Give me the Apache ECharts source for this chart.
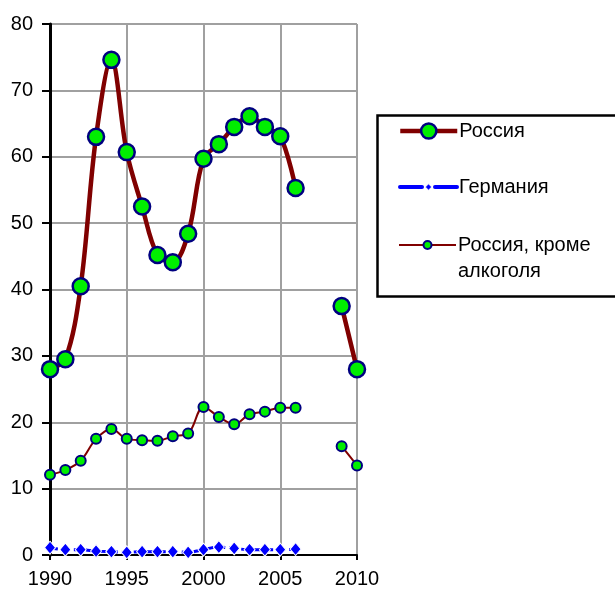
<!DOCTYPE html>
<html>
<head>
<meta charset="utf-8">
<script src="https://cdn.jsdelivr.net/npm/echarts@6/dist/echarts.min.js"></script>
<style>html,body{margin:0;padding:0;background:#fff;}#c{width:615px;height:591px;}</style>
</head>
<body>
<div id="c"></div>
<script>
const years = [1990,1991,1992,1993,1994,1995,1996,1997,1998,1999,2000,2001,2002,2003,2004,2005,2006,2007,2008,2009,2010];
const russia = [28.0,29.5,40.5,63.0,74.6,60.7,52.5,45.2,44.1,48.4,59.7,61.9,64.5,66.1,64.5,63.1,55.3,null,null,37.5,28.0];
const germany = [1.1,0.8,0.8,0.6,0.5,0.4,0.5,0.5,0.5,0.4,0.8,1.2,1.0,0.8,0.8,0.8,0.9,null,null,null,null];
const russiaExAlc = [12.1,12.8,14.2,17.5,19.0,17.5,17.3,17.2,17.9,18.3,22.3,20.8,19.7,21.2,21.6,22.2,22.2,null,null,16.4,13.5];
const xTicks = [1990,1995,2000,2005,2010];
const yTicks = [0,10,20,30,40,50,60,70,80];
const names = ['Россия','Германия','Россия, кроме\nалкоголя'];

const pairs = arr => years.map((y,i)=>[y, arr[i]]);
const font = 'Liberation Sans, Arial, sans-serif';
const legendText = {fontFamily:font,fontSize:20,color:'#000',lineHeight:26.5,padding:[0,0,0,-3]};

const chart = echarts.init(document.getElementById('c'), null, {renderer:'canvas'});
chart.setOption({
  animation:false,
  backgroundColor:'#fff',
  grid:{left:50,right:258,top:24,bottom:36,containLabel:false},
  graphic:[{
    type:'rect', left:375, top:113,
    shape:{x:0,y:0,width:250,height:181},
    style:{fill:'none',stroke:'#000',lineWidth:2.5},
    silent:true
  }],
  legend:[
    {
      left:398, top:131-13.25, padding:0,
      itemWidth:57, itemHeight:19,
      textStyle:legendText,
      data:[{name:names[0]}],
      lineStyle:{width:4.5,color:'#800000'},
      itemStyle:{color:'#00ee00',borderColor:'#000080',borderWidth:2.5}
    },
    {
      left:398, top:187-13.25, padding:0,
      itemWidth:57, itemHeight:8,
      textStyle:legendText,
      data:[{name:names[1]}],
      lineStyle:{width:4,color:'#0000ff',type:[22,13],cap:'round'},
      itemStyle:{color:'#0000ff',borderColor:'#ffffff',borderWidth:1}
    },
    {
      left:398, top:245-39.75, padding:0,
      itemWidth:57, itemHeight:10,
      textStyle:legendText,
      formatter: n => ' \n' + n,
      data:[{name:names[2]}],
      lineStyle:{width:2,color:'#800000'},
      itemStyle:{color:'#00ee00',borderColor:'#000080',borderWidth:2}
    }
  ],
  xAxis:{
    type:'value', min:xTicks[0], max:xTicks[xTicks.length-1], interval:5,
    axisLine:{show:true,onZero:false,lineStyle:{color:'#000',width:2}},
    axisTick:{show:true,length:5,lineStyle:{color:'#000',width:2}},
    axisLabel:{fontFamily:font,fontSize:20,color:'#000',margin:14,formatter:v=>String(v)},
    splitLine:{show:true,lineStyle:{color:'#a0a0a0',width:2}}
  },
  yAxis:{
    type:'value', min:yTicks[0], max:yTicks[yTicks.length-1], interval:10,
    axisLine:{show:true,lineStyle:{color:'#000',width:3}},
    axisTick:{show:true,length:8,lineStyle:{color:'#000',width:2}},
    axisLabel:{fontFamily:font,fontSize:20,color:'#000',margin:17},
    splitLine:{show:true,lineStyle:{color:'#a0a0a0',width:2}}
  },
  series:[
    {
      name:names[2], type:'line', data:pairs(russiaExAlc), smooth:0.35, connectNulls:false, z:3,
      symbol:'circle', symbolSize:10,
      lineStyle:{color:'#800000',width:2},
      itemStyle:{color:'#00ee00',borderColor:'#000080',borderWidth:2}
    },
    {
      name:names[1], type:'line', data:pairs(germany), smooth:0.35, connectNulls:false, z:4,
      symbol:'diamond', symbolSize:[11,13],
      lineStyle:{color:'#0000ff',width:3,type:[8,4]},
      itemStyle:{color:'#0000ff',borderColor:'#ffffff',borderWidth:1}
    },
    {
      name:names[0], type:'line', data:pairs(russia), smooth:0.35, connectNulls:false, z:5,
      symbol:'circle', symbolSize:16,
      lineStyle:{color:'#800000',width:4.5},
      itemStyle:{color:'#00ee00',borderColor:'#000080',borderWidth:2.5}
    }
  ]
});
</script>
</body>
</html>
